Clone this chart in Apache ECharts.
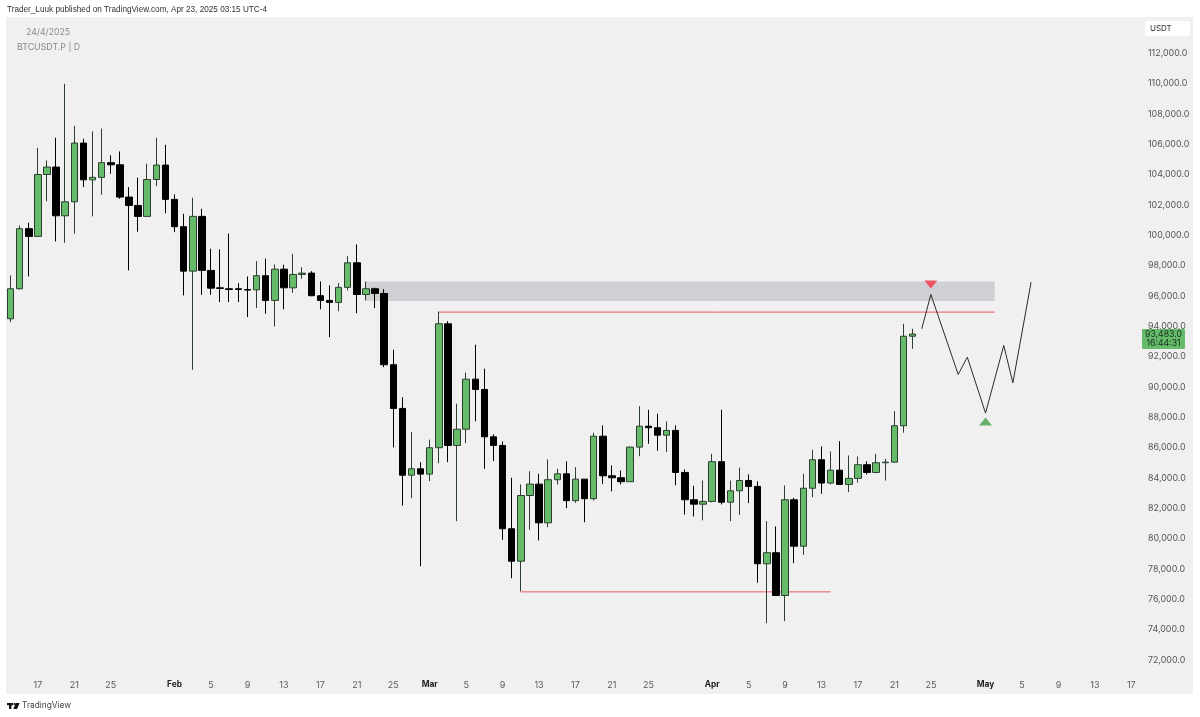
<!DOCTYPE html>
<html><head><meta charset="utf-8">
<style>html,body{margin:0;padding:0;background:#fff}#c{width:1200px;height:717px}</style>
<script src="https://cdn.jsdelivr.net/npm/echarts@6/dist/echarts.min.js"></script>
</head><body><div id="c"></div>
<script>
const categories = ["Jan 14","Jan 15","Jan 16","Jan 17","Jan 18","Jan 19","Jan 20","Jan 21","Jan 22","Jan 23","Jan 24","Jan 25","Jan 26","Jan 27","Jan 28","Jan 29","Jan 30","Jan 31",
"Feb 1","Feb 2","Feb 3","Feb 4","Feb 5","Feb 6","Feb 7","Feb 8","Feb 9","Feb 10","Feb 11","Feb 12","Feb 13","Feb 14","Feb 15","Feb 16","Feb 17","Feb 18","Feb 19","Feb 20","Feb 21","Feb 22","Feb 23","Feb 24","Feb 25","Feb 26","Feb 27","Feb 28",
"Mar 1","Mar 2","Mar 3","Mar 4","Mar 5","Mar 6","Mar 7","Mar 8","Mar 9","Mar 10","Mar 11","Mar 12","Mar 13","Mar 14","Mar 15","Mar 16","Mar 17","Mar 18","Mar 19","Mar 20","Mar 21","Mar 22","Mar 23","Mar 24","Mar 25","Mar 26","Mar 27","Mar 28","Mar 29","Mar 30","Mar 31",
"Apr 1","Apr 2","Apr 3","Apr 4","Apr 5","Apr 6","Apr 7","Apr 8","Apr 9","Apr 10","Apr 11","Apr 12","Apr 13","Apr 14","Apr 15","Apr 16","Apr 17","Apr 18","Apr 19","Apr 20","Apr 21","Apr 22","Apr 23","Apr 24","Apr 25","Apr 26","Apr 27","Apr 28","Apr 29","Apr 30",
"May 1","May 2","May 3","May 4","May 5","May 6","May 7","May 8","May 9","May 10","May 11","May 12","May 13","May 14","May 15","May 16","May 17","May 18"];
const tickLabels = {"Jan 17":"17","Jan 21":"21","Jan 25":"25","Feb 1":"Feb","Feb 5":"5","Feb 9":"9","Feb 13":"13","Feb 17":"17","Feb 21":"21","Feb 25":"25","Mar 1":"Mar","Mar 5":"5","Mar 9":"9","Mar 13":"13","Mar 17":"17","Mar 21":"21","Mar 25":"25","Apr 1":"Apr","Apr 5":"5","Apr 9":"9","Apr 13":"13","Apr 17":"17","Apr 21":"21","Apr 25":"25","May 1":"May","May 5":"5","May 9":"9","May 13":"13","May 17":"17"};
// open, close, low, high
const candles = [
[94490,96470,94270,97350],[96470,100430,96420,100640],[100430,99920,97280,100820],[99920,104000,99920,105760],[104000,104490,102240,104930],
[104490,101280,99590,106420],[101280,102200,99500,109980],[102200,106070,100100,107210],[106070,103650,103170,106360],[103650,103810,101240,106840],
[103810,104780,102670,107020],[104780,104640,104050,105260],[104640,102510,102400,105520],[102510,101960,97680,103170],[101960,101240,100230,103790],
[101240,103670,101240,104710],[103670,104620,103230,106420],[104620,102360,101450,105960],[102360,100560,100200,102690],[100560,97630,96030,101410],
[97630,101240,91130,102470],[101240,97680,96070,101740],[97680,96510,96070,99110],[96530,96490,95590,99060],[96470,96420,95590,100100],
[96470,96420,95590,96840],[96420,96380,94600,97280],[96400,97330,95190,98290],[97330,95700,94820,98450],[95700,97760,93980,98070],
[97760,96530,95120,98050],[96530,97410,96200,98780],[97410,97500,97130,97890],[97500,96010,95980,97630],[96010,95700,95120,96950],
[95700,95570,93280,96690],[95570,96560,94990,96840],[96560,98180,96360,98620],[98180,96090,94860,99390],[96090,96470,95700,96950],
[96470,96160,95190,96540],[96160,91460,91300,96440],[91460,88580,86010,92450],[88580,84180,82180,89320],[84180,84600,82670,87020],
[84600,84250,78180,85040],[84250,85990,83790,86520],[85990,94160,84970,94970],[94160,86140,85040,94330],[86140,87210,81150,88890],
[87210,90510,86290,90950],[90510,89830,87740,92780],[89830,86710,84600,91200],[86710,86140,85110,86870],[86140,80650,79920,86400],
[80650,78510,77390,84010],[78510,82840,76520,83570],[82840,83590,80580,84440],[83590,81040,79880,84270],[81040,83880,80750,85220],
[83880,84270,83570,84600],[84270,82500,82000,85090],[82500,83920,82360,84710],[83920,82630,81080,83920],[82630,86750,82510,86980],
[86750,84140,83610,87460],[84140,84010,83110,84820],[84010,83750,83570,84490],[83750,86030,83750,86070],[86030,87410,85430,88730],
[87410,87310,86250,88490],[87310,86820,85790,88230],[86820,87130,85700,87720],[87130,84360,83520,87460],[84360,82560,81590,84560],
[82560,82270,81460,83480],[82270,82450,81200,83830],[82450,85070,82380,85590],[85070,82400,82250,88490],[82400,83150,81150,83830],
[83150,83830,81570,84670],[83830,83440,82340,84230],[83440,78340,77090,83770],[78340,79070,74420,81150],[79070,76250,76250,80800],
[76250,82560,74560,83500],[82560,79500,78380,82690],[79500,83320,78930,84270],[83320,85200,82730,85860],[85200,83660,82960,86070],
[83660,84510,83570,85740],[84510,83570,83570,86420],[83570,83970,83060,85480],[83970,84870,83700,85410],[84870,84360,84230,85090],
[84360,85000,84310,85590],[85000,85040,83830,85260],[85040,87440,85060,88400],[87440,93340,86980,94160],[93340,93483,92510,93830]];
const projDates = ["Apr 24","Apr 25","Apr 28","Apr 29","May 1","May 3","May 4","May 6"];
const projValues = [93830,96090,90820,91960,88270,92730,90270,96900];
const zone = {from:"Feb 22", to:"May 2", top:96950, bottom:95660};
const upperLine = {from:"Mar 2", to:"May 2", value:94930};
const lowerLine = {from:"Mar 11", to:"Apr 14", value:76490};
const sellMark = {date:"Apr 25", value:96750};
const buyMark = {date:"May 1", value:87720};
const FONT = 'Inter, "Liberation Sans", sans-serif';
const LIB = '"Liberation Sans", Arial, sans-serif';
const chart = echarts.init(document.getElementById('c'), null, {renderer:'canvas'});
const segment = l => [[l.from,l.value],[l.to,l.value]];
const redLine = (name,l) => ({type:'line',name,data:segment(l),symbol:'none',silent:true,z:3,
  lineStyle:{color:'#ea5a60',width:1},animation:false});
chart.setOption({
  animation:false,
  backgroundColor:'#ffffff',
  grid:{left:6,width:1139,top:22.8,height:667.5,containLabel:false},
  xAxis:{type:'category',data:categories,boundaryGap:true,
    axisLine:{show:false},axisTick:{show:false},splitLine:{show:false},
    axisLabel:{margin:-9.5,fontFamily:FONT,fontSize:9,color:'#5a5a5a',hideOverlap:false,
      interval:(i,v)=>tickLabels[v]!==undefined,
      formatter:v=>{const t=tickLabels[v]; if(t===undefined) return ''; return /[A-Z]/.test(t)?'{b|'+t+'}':t;},
      rich:{b:{fontWeight:'bold',fontFamily:FONT,fontSize:8.4,color:'#222'}}}},
  yAxis:{type:'value',position:'right',min:70000,max:114000,interval:2000,scale:true,
    axisLine:{show:false},axisTick:{show:false},splitLine:{show:false},
    axisLabel:{margin:3,fontFamily:FONT,fontSize:8.9,color:'#555',hideOverlap:false,
      formatter:v=>(v<=70000||v>=114000)?'':v.toLocaleString('en-US',{minimumFractionDigits:1,maximumFractionDigits:1})}},
  graphic:[
    {type:'rect',z:-10,zlevel:-1,shape:{x:6,y:17,width:1187,height:677},style:{fill:'#f0f0f0'},silent:true},
    {type:'rect',z:50,shape:{x:1145,y:21,width:45,height:15,r:2},style:{fill:'#ffffff'}},
    {type:'text',z:51,x:1150,y:28.5,style:{text:'USDT',font:'8px '+FONT,fill:'#333',verticalAlign:'middle'}},
    {type:'text',x:7,y:10,style:{text:'Trader_Luuk published on TradingView.com, Apr 23, 2025 03:15 UTC-4',font:'8.2px '+LIB,fill:'#333',verticalAlign:'middle'}},
    {type:'text',x:26,y:32,style:{text:'24/4/2025',font:'8.7px '+FONT,fill:'#888',verticalAlign:'middle'}},
    {type:'text',x:17,y:47,style:{text:'BTCUSDT.P | D',font:'8.8px '+FONT,fill:'#888',verticalAlign:'middle'}},
    {type:'text',x:22,y:706,style:{text:'TradingView',font:'8.3px '+FONT,fill:'#444',verticalAlign:'middle'}},
    {type:'rect',shape:{x:7,y:703,width:6,height:2.2},style:{fill:'#111'}},
    {type:'rect',shape:{x:9,y:703,width:2.4,height:6},style:{fill:'#111'}},
    {type:'circle',shape:{cx:14.6,cy:704,r:1.1},style:{fill:'#111'}},
    {type:'polygon',shape:{points:[[15.8,703],[19.6,703],[17,709],[13.4,709]]},style:{fill:'#111'}},
    {type:'rect',z:50,shape:{x:1142,y:329,width:43,height:20,r:1},style:{fill:'#66bb6a'}},
    {type:'text',z:51,x:1163.5,y:334,style:{text:'93,483.0',font:'8.7px '+FONT,fill:'#16301a',align:'center',verticalAlign:'middle'}},
    {type:'text',z:51,x:1163.5,y:343,style:{text:'16:44:31',font:'8.7px '+FONT,fill:'#16301a',align:'center',verticalAlign:'middle'}}
  ],
  series:[
    {type:'candlestick',name:'BTCUSDT.P',data:candles,barWidth:7,z:4,
      itemStyle:{color:'#66bb6a',color0:'#000000',borderColor:'#2c3f2f',borderColor0:'#000000',borderWidth:1},
      markArea:{silent:true,z:1,itemStyle:{color:'#cfd0d4'},
        data:[[{xAxis:zone.from,yAxis:zone.top},{xAxis:zone.to,yAxis:zone.bottom}]]}},
    redLine('upper',upperLine),
    redLine('lower',lowerLine),
    {type:'line',name:'projection',data:projDates.map((d,i)=>[d,projValues[i]]),symbol:'none',silent:true,z:5,
      lineStyle:{color:'#2a2a2a',width:1}},
    {type:'scatter',name:'sell',data:[[sellMark.date,sellMark.value]],symbol:'triangle',symbolSize:[13,8],symbolRotate:180,silent:true,z:6,
      itemStyle:{color:'#f23645'}},
    {type:'scatter',name:'buy',data:[[buyMark.date,buyMark.value]],symbol:'triangle',symbolSize:[13,8],silent:true,z:6,
      itemStyle:{color:'#43a047'}}
  ]
});
</script></body></html>
